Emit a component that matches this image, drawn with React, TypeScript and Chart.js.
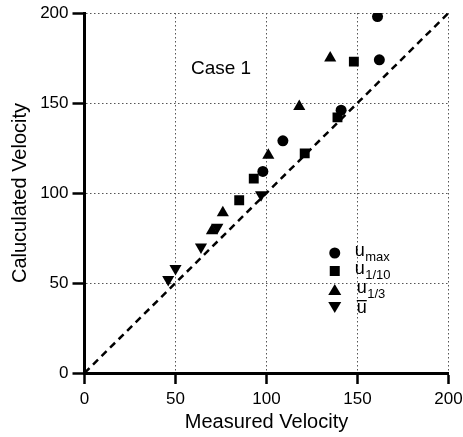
import React, { useEffect, useRef } from "react";
import { Chart, registerables } from "chart.js";

Chart.register(...registerables);

const xTicks = [0, 50, 100, 150, 200];
const yTicks = [0, 50, 100, 150, 200];

const uMaxX = [161, 162, 141, 109, 98];
const uMaxY = [198, 174, 146, 129, 112];

const u110X = [148, 121, 93, 85, 139];
const u110Y = [173, 122, 108, 96, 142];

const u13X = [135, 118, 101, 76, 70];
const u13Y = [175, 148, 121, 89, 79];

const uBarX = [73, 64, 50, 46, 97];
const uBarY = [81, 70, 58, 52, 99];

const lineX = [0, 200];
const lineY = [0, 200];

const caseLabel = "Case 1";
const xTitle = "Measured Velocity";
const yTitle = "Caluculated Velocity";

const FONT = "'Liberation Sans', Arial, Helvetica, sans-serif";

const toPts = (xs: number[], ys: number[]) => xs.map((x, i) => ({ x, y: ys[i] }));

const overlayPlugin = {
  id: "overlay",
  afterDatasetsDraw(chart: any) {
    const ctx = chart.ctx as CanvasRenderingContext2D;
    const xs = chart.scales.x;
    const ys = chart.scales.y;
    ctx.save();
    ctx.fillStyle = "#000";
    ctx.textBaseline = "middle";
    ctx.textAlign = "left";
    ctx.font = `19px ${FONT}`;
    ctx.fillText(caseLabel, xs.getPixelForValue(58.5), ys.getPixelForValue(169));

    // legend
    const mx = xs.getPixelForValue(137.5);
    const tx = xs.getPixelForValue(148.5);
    const rows = [
      { style: "circle", main: "u", sub: "max", bar: false },
      { style: "rect", main: "u", sub: "1/10", bar: false },
      { style: "triangle", main: "u", sub: "1/3", bar: false },
      { style: "inv", main: "u", sub: "", bar: true },
    ];
    const rowY = [253, 271, 290, 307];
    rows.forEach((r, i) => {
      const y = rowY[i];
      ctx.beginPath();
      if (r.style === "circle") {
        ctx.arc(mx, y, 5.5, 0, Math.PI * 2);
      } else if (r.style === "rect") {
        ctx.rect(mx - 5, y - 5, 10, 10);
      } else if (r.style === "triangle") {
        ctx.moveTo(mx, y - 6);
        ctx.lineTo(mx + 6.5, y + 5);
        ctx.lineTo(mx - 6.5, y + 5);
        ctx.closePath();
      } else {
        ctx.moveTo(mx, y + 6);
        ctx.lineTo(mx + 6.5, y - 5);
        ctx.lineTo(mx - 6.5, y - 5);
        ctx.closePath();
      }
      ctx.fill();
      ctx.font = `18px ${FONT}`;
      const lx = r.sub === "1/3" ? tx + 2 : tx;
      const ly = r.bar ? y + 1 : y - 2;
      const tx2 = r.bar ? lx + 2 : lx;
      ctx.fillText(r.main, tx2, ly);
      const w = ctx.measureText(r.main).width;
      if (r.sub) {
        ctx.font = `13px ${FONT}`;
        ctx.fillText(r.sub, tx2 + w + 0.5, ly + 6);
      }
      if (r.bar) {
        ctx.fillRect(tx2, ly - 8, w, 1.3);
      }
    });
    ctx.restore();
  },
};

export default function App() {
  const ref = useRef<HTMLCanvasElement | null>(null);
  useEffect(() => {
    document.body.style.margin = "0";
    const canvas = ref.current;
    if (!canvas) return;
    const tickFont = { family: FONT, size: 17 };
    const chart = new Chart(canvas, {
      type: "scatter",
      data: {
        datasets: [
          {
            type: "line",
            data: toPts(lineX, lineY),
            borderColor: "#000",
            borderWidth: 2.5,
            borderDash: [7, 5],
            pointRadius: 0,
            fill: false,
          } as any,
          {
            data: toPts(uMaxX, uMaxY),
            pointStyle: "circle",
            pointRadius: 5.5,
            backgroundColor: "#000",
            borderColor: "#000",
            borderWidth: 0,
          },
          {
            data: toPts(u110X, u110Y),
            pointStyle: "rect",
            pointRadius: 7,
            backgroundColor: "#000",
            borderColor: "#000",
            borderWidth: 0,
          },
          {
            data: toPts(u13X, u13Y),
            pointStyle: "triangle",
            pointRadius: 7,
            backgroundColor: "#000",
            borderColor: "#000",
            borderWidth: 0,
          },
          {
            data: toPts(uBarX, uBarY),
            pointStyle: "triangle",
            rotation: 180,
            pointRadius: 7,
            backgroundColor: "#000",
            borderColor: "#000",
            borderWidth: 0,
          },
        ],
      },
      options: {
        animation: false,
        responsive: false,
        maintainAspectRatio: false,
        layout: { padding: { top: 13, right: 14.5, left: 8, bottom: 3 } },
        plugins: { legend: { display: false }, tooltip: { enabled: false } },
        scales: {
          x: {
            type: "linear",
            min: 0,
            max: 200,
            afterBuildTicks: (s: any) => {
              s.ticks = xTicks.map((v) => ({ value: v }));
            },
            afterFit: (s: any) => {
              s.height = 61;
              s.paddingRight = 0;
              s.paddingLeft = 0;
            },
            ticks: { color: "#000", font: tickFont, padding: 5 },
            grid: {
              color: "#555",
              lineWidth: 1,
              tickColor: "#000",
              tickWidth: 2.5,
              tickLength: 11,
            },
            border: { display: true, color: "#000", width: 3, dash: [1.5, 2.5] },
            title: {
              display: true,
              text: xTitle,
              color: "#000",
              font: { family: FONT, size: 20 },
              padding: { top: 0, bottom: 0 },
            },
          },
          y: {
            type: "linear",
            min: 0,
            max: 200,
            afterBuildTicks: (s: any) => {
              s.ticks = yTicks.map((v) => ({ value: v }));
            },
            afterFit: (s: any) => {
              s.width = 76.5;
              s.paddingTop = 0;
              s.paddingBottom = 0;
            },
            ticks: { color: "#000", font: tickFont, padding: 4 },
            grid: {
              color: "#555",
              lineWidth: 1,
              tickColor: "#000",
              tickWidth: 2.5,
              tickLength: 12,
            },
            border: { display: true, color: "#000", width: 3, dash: [1.5, 2.5] },
            title: {
              display: true,
              text: yTitle,
              color: "#000",
              font: { family: FONT, size: 20 },
              padding: { top: 0, bottom: 2 },
            },
          },
        },
      },
      plugins: [overlayPlugin],
    } as any);
    return () => chart.destroy();
  }, []);
  return (
    <div style={{ position: "relative", width: 463, height: 437, background: "#fff" }}>
      <canvas ref={ref} width={463} height={437} style={{ width: 463, height: 437, display: "block" }} />
    </div>
  );
}
